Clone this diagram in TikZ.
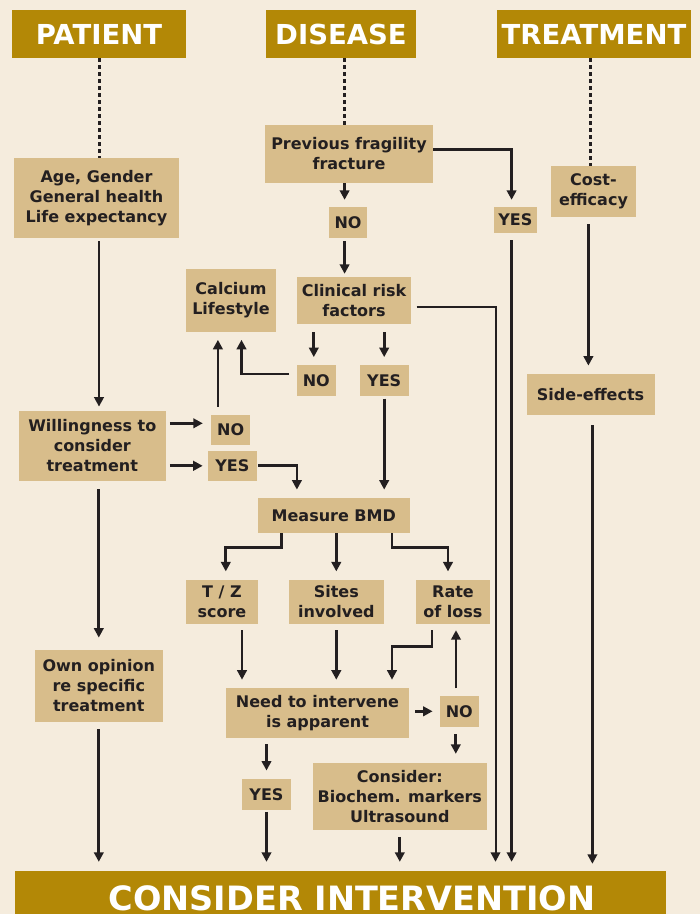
\documentclass[tikz,border=0pt]{standalone}
\usepackage{fontspec}
\setmainfont{DejaVu Sans}
\usetikzlibrary{arrows.meta}
\definecolor{bg}{HTML}{F5ECDD}
\definecolor{boxc}{HTML}{D8BD8B}
\definecolor{head}{HTML}{B38806}
\definecolor{ink}{HTML}{231F20}
\begin{document}
\begin{tikzpicture}[x=1pt,y=-1pt,
  box/.style={fill=boxc, inner sep=0pt, align=center, text=ink,
    font=\bfseries\fontsize{16}{20}\selectfont},
  hdr/.style={fill=head, inner sep=0pt, text=white,
    font=\bfseries\fontsize{27.5}{30}\selectfont},
  arr/.style={draw=ink, line width=2.8pt, -{Triangle[length=9.5pt,width=9.5pt]}},
  dots/.style={draw=ink, line width=3pt, dash pattern=on 4pt off 3pt}]
\fill[bg] (0,0) rectangle (700,914);
\useasboundingbox (0,0) rectangle (700,914);

% headers
\node[hdr, minimum width=174pt, minimum height=48pt] (hP) at (99,34) {PATIENT};
\node[hdr, minimum width=150pt, minimum height=48pt] (hD) at (341,34) {DISEASE};
\node[hdr, minimum width=194pt, minimum height=48pt] (hT) at (594,34) {TREATMENT};

% boxes
\node[box, minimum width=165pt, minimum height=80pt] (age) at (96.5,198) {Age, Gender\\General health\\Life expectancy};
\node[box, minimum width=168pt, minimum height=58pt] (prev) at (349,154) {Previous fragility\\fracture};
\node[box, minimum width=85pt, minimum height=51pt] (cost) at (593.5,191.5) {Cost-\\efficacy};
\node[box, minimum width=38pt, minimum height=31pt] (no1) at (348,222.5) {NO};
\node[box, minimum width=43pt, minimum height=26pt] (yes1) at (515.3,220) {YES};
\node[box, minimum width=90pt, minimum height=63pt] (calc) at (231,300.5) {Calcium\\Lifestyle};
\node[box, minimum width=114pt, minimum height=47pt] (clin) at (354,300.5) {Clinical risk\\factors};
\node[box, minimum width=39pt, minimum height=31pt] (no2) at (316.3,380.3) {NO};
\node[box, minimum width=49pt, minimum height=31pt] (yes2) at (384.2,380.3) {YES};
\node[box, minimum width=128pt, minimum height=41pt] (side) at (590.6,394.3) {Side-effects};
\node[box, minimum width=147pt, minimum height=70pt] (will) at (92.3,445.8) {Willingness to\\consider\\treatment};
\node[box, minimum width=39pt, minimum height=30pt] (no3) at (230.7,429.8) {NO};
\node[box, minimum width=49pt, minimum height=30pt] (yes3) at (232.4,465.8) {YES};
\node[box, minimum width=152pt, minimum height=35pt] (bmd) at (333.8,515.3) {Measure BMD};
\node[box, minimum width=72pt, minimum height=44pt] (tz) at (221.9,601.9) {T / Z\\score};
\node[box, minimum width=95pt, minimum height=44pt] (sites) at (336.3,601.9) {Sites\\involved};
\node[box, minimum width=74pt, minimum height=44pt] (rate) at (453,601.9) {Rate\\of loss};
\node[box, minimum width=183pt, minimum height=50pt] (need) at (317.5,712.9) {Need to intervene\\is apparent};
\node[box, minimum width=39pt, minimum height=31pt] (no4) at (459.3,711.3) {NO};
\node[box, minimum width=128pt, minimum height=72pt] (own) at (98.8,685.8) {Own opinion\\re specific\\treatment};
\node[box, minimum width=49pt, minimum height=31pt] (yes4) at (266.5,794.5) {YES};
\node[box, minimum width=174pt, minimum height=67pt] (cons) at (399.8,796.5) {Consider:\\Biochem. markers\\Ultrasound};

% bottom bar
\node[fill=head, inner sep=0pt, minimum width=651pt, minimum height=43pt] (ci) at (340.5,892.5) {};
\node[anchor=base, inner sep=0pt, text=white, font=\bfseries\fontsize{33.5}{36}\selectfont] (citext) at (352,910.5) {CONSIDER INTERVENTION};

% dotted
\draw[dots] (hP.south) -- (hP.south |- age.north);
\draw[dots] ([xshift=3.6pt]hD.south) -- ([xshift=3.6pt]hD.south |- prev.north);
\draw[dots] ([xshift=-3.4pt]hT.south) -- ([xshift=-3.4pt]hT.south |- cost.north);

% disease column
\draw[arr, shorten >=7pt] ([xshift=-4.4pt]prev.south) -- ([xshift=-4.4pt]prev.south |- no1.north);
\draw[arr, shorten >=7pt] ([yshift=4.3pt]prev.east) -| ([xshift=-3.7pt]yes1.north);
\draw[arr, shorten <=3pt, shorten >=3pt] ([xshift=-3.4pt]no1.south) -- ([xshift=-3.4pt]no1.south |- clin.north);
\draw[arr, shorten <=7pt, shorten >=9pt] ([xshift=-3.7pt]yes1.south) -- ([xshift=-3.7pt]yes1.south |- ci.north);
\draw[arr, line width=2pt, shorten <=5.5pt, shorten >=9pt] ([yshift=-6.5pt]clin.east) -| ([xshift=155pt]ci.north);
\draw[arr, shorten <=8pt, shorten >=7.5pt] ([xshift=-2.5pt]no2.north |- clin.south) -- ([xshift=-2.5pt]no2.north);
\draw[arr, shorten <=8pt, shorten >=7.5pt] (yes2.north |- clin.south) -- (yes2.north);
\draw[arr, shorten <=7.5pt, shorten >=7.6pt] ([yshift=6.3pt]no2.west) -| ([xshift=10.5pt]calc.south);
\draw[arr, shorten <=2.5pt, shorten >=8pt] (yes2.south) -- (yes2.south |- bmd.north);

% treatment column
\draw[arr, shorten <=7pt, shorten >=8pt] ([xshift=-5.1pt]cost.south) -- ([xshift=-5.1pt]cost.south |- side.north);
\draw[arr, shorten <=10pt, shorten >=7pt] ([xshift=1.8pt]side.south) -- ([xshift=1.8pt]side.south |- ci.north);

% patient column
\draw[arr, shorten <=3pt, shorten >=4pt] ([xshift=2.5pt]age.south) -- ([xshift=2.5pt]age.south |- will.north);
\draw[arr, shorten <=3.8pt, shorten >=8.2pt] ([yshift=6.5pt]no3.west -| will.east) -- ([yshift=6.5pt]no3.west);
\draw[arr, shorten <=3.8pt, shorten >=5pt] (yes3.west -| will.east) -- (yes3.west);
\draw[arr, shorten <=8pt, shorten >=7.6pt] ([xshift=-13.1pt]calc.south |- no3.north) -- ([xshift=-13.1pt]calc.south);
\draw[arr, shorten <=1pt, shorten >=8pt] (yes3.east) -| ([xshift=-36.9pt]bmd.north);
\draw[arr, shorten <=8.2pt, shorten >=12pt] (own.north |- will.south) -- (own.north);
\draw[arr, shorten <=7.3pt, shorten >=9pt] (own.south) -- (own.south |- ci.north);

% BMD branches
\draw[arr, shorten >=8.3pt] ([xshift=-52.3pt]bmd.south) -- ++(0,14.3) -| ([xshift=3.9pt]tz.north);
\draw[arr, shorten >=8.3pt] (sites.north |- bmd.south) -- (sites.north);
\draw[arr, shorten >=8.3pt] ([xshift=58.2pt]bmd.south) -- ++(0,14.3) -| ([xshift=-5pt]rate.north);

% to need
\draw[arr, shorten <=6pt, shorten >=8pt] ([xshift=20.1pt]tz.south) -- ([xshift=20.1pt]tz.south |- need.north);
\draw[arr, shorten <=6pt, shorten >=8pt] (sites.south) -- (sites.south |- need.north);
\draw[arr, shorten >=8pt] ([xshift=-21pt, yshift=-6pt]rate.south) -- ++(0,16.7) -| ([xshift=74.5pt]need.north);
\draw[arr, shorten <=7.3pt, shorten >=6.1pt] ([xshift=-3.3pt]no4.north) -- ([xshift=-3.3pt]no4.north |- rate.south);
\draw[arr, shorten <=6pt, shorten >=7pt] (no4.west -| need.east) -- (no4.west);
\draw[arr, shorten <=6pt, shorten >=8.3pt] (yes4.north |- need.south) -- (yes4.north);
\draw[arr, shorten <=7.3pt, shorten >=9pt] ([xshift=-3.5pt]no4.south) -- ([xshift=-3.5pt]no4.south |- cons.north);
\draw[arr, shorten <=1.7pt, shorten >=9pt] (yes4.south) -- (yes4.south |- ci.north);
\draw[arr, shorten <=6.7pt, shorten >=9pt] (cons.south) -- (cons.south |- ci.north);
\end{tikzpicture}
\end{document}
